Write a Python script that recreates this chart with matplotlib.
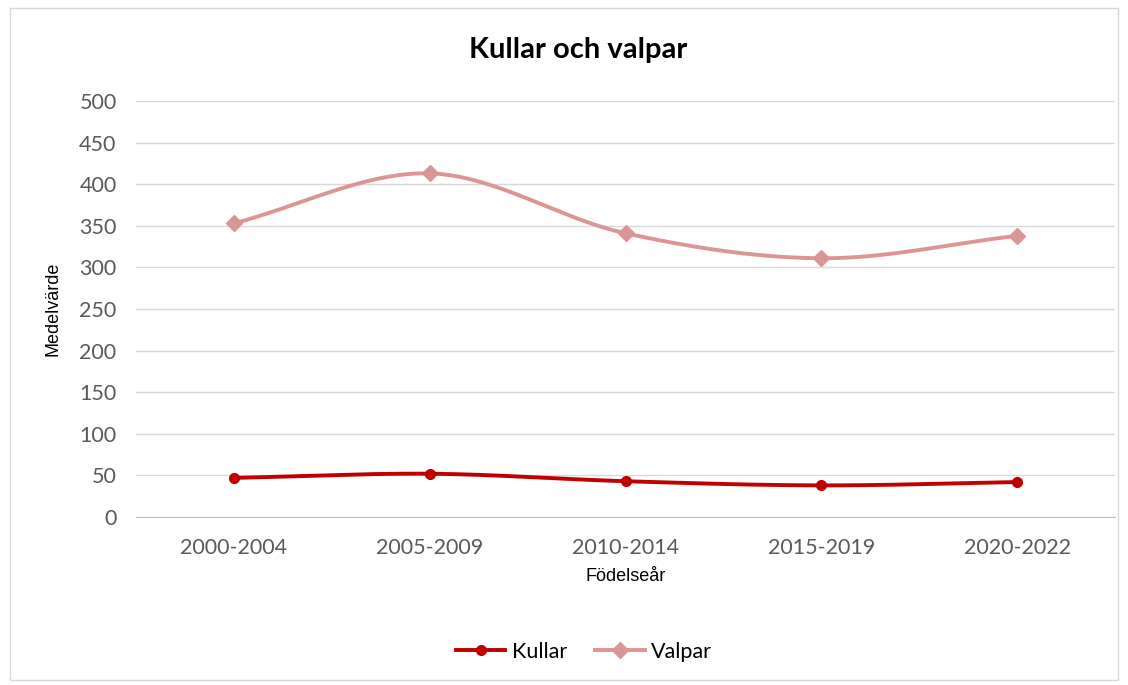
import numpy as np
import matplotlib.pyplot as plt
from matplotlib.patches import Rectangle

# Data
periods = ["2000-2004", "2005-2009", "2010-2014", "2015-2019", "2020-2022"]
kullar = [47, 52, 43, 38, 42]
valpar = [353, 413, 341, 311, 338]

KULLAR_COLOR = "#C00000"
VALPAR_COLOR = "#DA9694"

plt.rcParams["font.family"] = ["Lato", "DejaVu Sans"]


def smooth(x, y, n=40):
    """Catmull-Rom style smoothing, similar to Excel's smoothed lines."""
    x = np.asarray(x, float)
    y = np.asarray(y, float)
    px = np.concatenate([[2 * x[0] - x[1]], x, [2 * x[-1] - x[-2]]])
    py = np.concatenate([[2 * y[0] - y[1]], y, [2 * y[-1] - y[-2]]])
    xs, ys = [], []
    t = np.linspace(0, 1, n)
    for i in range(1, len(px) - 2):
        p0, p1, p2, p3 = (np.array([px[j], py[j]]) for j in range(i - 1, i + 3))
        c1 = p1 + (p2 - p0) / 6
        c2 = p2 - (p3 - p1) / 6
        pts = ((1 - t) ** 3)[:, None] * p1 + (3 * (1 - t) ** 2 * t)[:, None] * c1 \
            + (3 * (1 - t) * t ** 2)[:, None] * c2 + (t ** 3)[:, None] * p2
        xs.extend(pts[:, 0])
        ys.extend(pts[:, 1])
    return np.array(xs), np.array(ys)


fig = plt.figure(figsize=(11.28, 6.85), dpi=100)
ax = fig.add_axes([136 / 1128, 1 - 517 / 685, (1115 - 136) / 1128, 416 / 685])

# outer frame like the Excel chart area
fig.patches.append(Rectangle((10 / 1128, 1 - 680 / 685), 1108 / 1128, 672 / 685,
                             transform=fig.transFigure, fill=False,
                             edgecolor="#d9d9d9", lw=1))

x = np.arange(len(periods))
for vals, color, marker, ms, name in [
    (kullar, KULLAR_COLOR, "o", 7, "Kullar"),
    (valpar, VALPAR_COLOR, "D", 8, "Valpar"),
]:
    sx, sy = smooth(x, vals)
    ax.plot(sx, sy, color=color, lw=2.8, solid_capstyle="round", zorder=3)
    ax.plot(x, vals, color=color, lw=0, marker=marker, ms=ms, zorder=4)
    ax.plot([], [], color=color, lw=2.8, marker=marker, ms=ms, label=name)

ax.set_xlim(-0.5, len(periods) - 0.5)
ax.set_ylim(0, 500)
ax.set_yticks(range(0, 501, 50))
ax.set_xticks(x)
ax.set_xticklabels(periods)
ax.grid(axis="y", color="#d9d9d9", lw=1)
ax.set_axisbelow(True)
for s in ["top", "right", "left"]:
    ax.spines[s].set_visible(False)
ax.spines["bottom"].set_color("#bfbfbf")
ax.tick_params(axis="both", length=0, labelsize=15.5, labelcolor="#595959")
ax.tick_params(axis="x", pad=15)
ax.tick_params(axis="y", pad=14)

ax.set_xlabel("Födelseår", fontsize=13, family=["Liberation Sans"], labelpad=7)
ax.set_ylabel("Medelvärde", fontsize=13, family=["Liberation Sans"], labelpad=13)

fig.text(578 / 1128, 1 - 50 / 685, "Kullar och valpar", ha="center", va="center",
         fontsize=21, fontweight="bold")

fig.legend(loc="center", bbox_to_anchor=(584 / 1128, 1 - 652 / 685), ncol=2,
           frameon=False, fontsize=15.5, handlelength=2.3, columnspacing=1.3,
           handletextpad=0.3)

fig.savefig("out.png", dpi=100)
